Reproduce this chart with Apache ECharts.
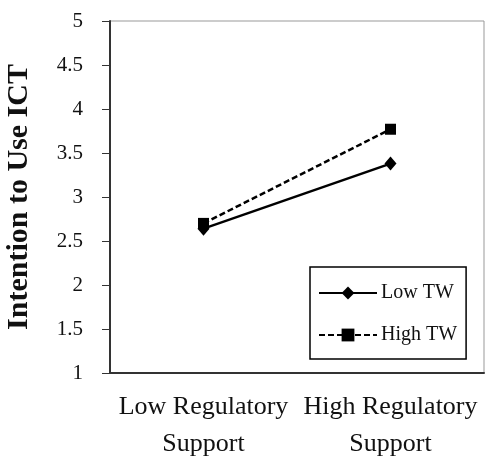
<!DOCTYPE html>
<html>
<head>
<meta charset="utf-8">
<script src="https://cdn.jsdelivr.net/npm/echarts@6/dist/echarts.min.js"></script>
<style>
  html, body { margin: 0; padding: 0; background: #fff; }
  #chart1 { width: 486px; height: 458px; }
</style>
</head>
<body>
<div id="chart1"></div>
<script>
// data
var categories = ['Low Regulatory\nSupport', 'High Regulatory\nSupport'];
var lowTW = [2.64, 3.38];
var highTW = [2.70, 3.77];
var seriesNames = ['Low TW', 'High TW'];

var serif = "'Liberation Serif', 'Times New Roman', serif";

var myChart = echarts.init(document.getElementById('chart1'));
var option = {
    backgroundColor: '#fff',
    animation: false,
    grid: {
        left: 110,
        right: 2,
        top: 21,
        bottom: 85,
        outerBoundsMode: 'none',
        containLabel: false,
        show: true,
        borderColor: '#999',
        borderWidth: 1
    },
    legend: {
        orient: 'vertical',
        left: 310,
        top: 267,
        data: seriesNames,
        itemWidth: 58,
        itemHeight: 16,
        itemGap: 22,
        padding: [16, 9, 14, 8],
        borderColor: '#000',
        borderWidth: 1.5,
        textStyle: { fontFamily: serif, fontSize: 20, color: '#111', padding: [0, 0, 0, -1] }
    },
    xAxis: {
        type: 'category',
        data: categories,
        boundaryGap: true,
        axisLine: { lineStyle: { color: '#333', width: 2 } },
        axisTick: { length: 7, lineStyle: { color: '#333', width: 1 } },
        axisLabel: { interval: 0, hideOverlap: false, fontFamily: serif, fontSize: 26, color: '#111', lineHeight: 37, margin: 16 },
        splitLine: { show: false }
    },
    yAxis: {
        type: 'value',
        min: 1,
        max: 5,
        interval: 0.5,
        name: 'Intention to Use ICT',
        nameLocation: 'middle',
        nameGap: 76,
        nameTextStyle: { fontFamily: serif, fontSize: 30, fontWeight: 'bold', color: '#111' },
        axisLine: { show: true, lineStyle: { color: '#333', width: 2 } },
        axisTick: { show: true, length: 8, lineStyle: { color: '#333', width: 1 } },
        axisLabel: { fontFamily: serif, fontSize: 21, color: '#111', margin: 27 },
        splitLine: { show: false }
    },
    series: [
        {
            name: 'Low TW',
            type: 'line',
            data: lowTW,
            symbol: 'diamond',
            symbolSize: [12, 14],
            itemStyle: { color: '#000' },
            lineStyle: { color: '#000', width: 2.5, type: 'solid' }
        },
        {
            name: 'High TW',
            type: 'line',
            data: highTW,
            symbol: 'rect',
            symbolSize: 11,
            itemStyle: { color: '#000' },
            lineStyle: { color: '#000', width: 2.5, type: [6, 3] }
        }
    ]
};
myChart.setOption(option);
</script>
</body>
</html>
